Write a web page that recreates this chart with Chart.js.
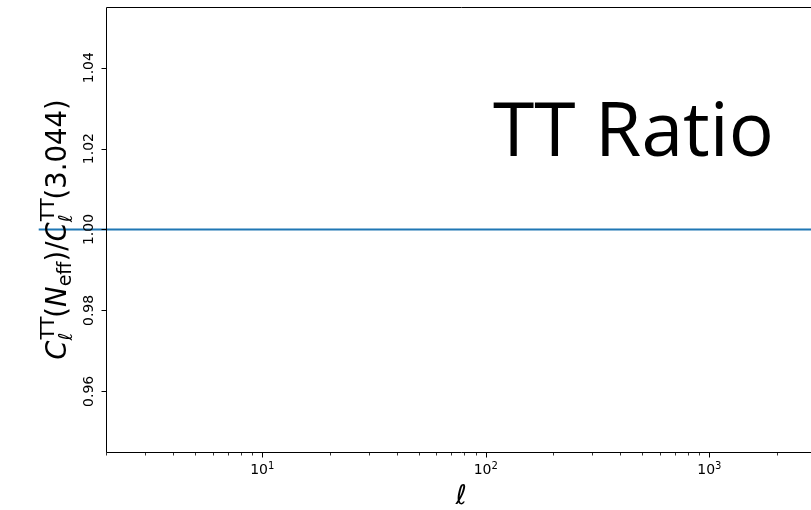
<!DOCTYPE html>
<html lang="en">
<head>
    <meta charset="UTF-8">
    <title>TT Ratio</title>
    <style>
        html, body { margin: 0; padding: 0; overflow: hidden; background: #fff; }
        #wrap { width: 830px; height: 510px; }
    </style>
</head>
<body>

<div id="wrap">
    <canvas id="ratioChart" width="830" height="510"></canvas>
</div>

<script src="https://cdn.jsdelivr.net/npm/chart.js@4"></script>
<script>
  // data
  const ells = [1, 3000];
  const ratio = [1.0, 1.0];
  const yTicks = [0.96, 0.98, 1.00, 1.02, 1.04];
  const yTickLabels = ['0.96', '0.98', '1.00', '1.02', '1.04'];
  const xMajor = [10, 100, 1000];
  const xMajorExp = ['1', '2', '3'];
  const xMinor = [2, 3, 4, 5, 6, 7, 8, 9, 20, 30, 40, 50, 60, 70, 80, 90,
                  200, 300, 400, 500, 600, 700, 800, 900, 2000, 3000];

  const FONT = '"DejaVu Sans", sans-serif';

  // draw a run of mathtext-like pieces centred on 0
  function drawPieces(ctx, pieces, base) {
    const widthOf = p => { ctx.font = p.font; return ctx.measureText(p.t).width; };
    let total = 0;
    pieces.forEach(p => {
      if (p.stack) total += Math.max(...p.stack.map(widthOf));
      else total += widthOf(p);
    });
    let x = -total / 2;
    pieces.forEach(p => {
      if (p.stack) {
        let w = 0;
        p.stack.forEach(s => {
          ctx.font = s.font;
          ctx.fillText(s.t, x + (s.dx || 0), base + s.dy);
          w = Math.max(w, ctx.measureText(s.t).width);
        });
        x += w;
      } else {
        ctx.font = p.font;
        ctx.fillText(p.t, x, base + (p.dy || 0));
        x += ctx.measureText(p.t).width;
      }
    });
  }

  const axesDecor = {
    id: 'axesDecor',
    afterDraw(chart) {
      const ctx = chart.ctx;
      const a = chart.chartArea;
      const xs = chart.scales.x, ys = chart.scales.y;
      ctx.save();
      ctx.strokeStyle = '#000';
      ctx.fillStyle = '#000';

      // spines
      ctx.lineWidth = 1;
      ctx.beginPath();
      ctx.moveTo(a.left + 0.5, a.top + 0.5);
      ctx.lineTo(a.right + 0.5, a.top + 0.5);
      ctx.lineTo(a.right + 0.5, a.bottom + 0.5);
      ctx.lineTo(a.left + 0.5, a.bottom + 0.5);
      ctx.closePath();
      ctx.stroke();

      // x ticks
      ctx.beginPath();
      xMajor.forEach(v => {
        const px = Math.round(xs.getPixelForValue(v)) + 0.5;
        ctx.moveTo(px, a.bottom + 0.5);
        ctx.lineTo(px, a.bottom + 5.5);
      });
      ctx.stroke();
      ctx.lineWidth = 0.8;
      ctx.beginPath();
      xMinor.forEach(v => {
        const px = Math.round(xs.getPixelForValue(v)) + 0.5;
        ctx.moveTo(px, a.bottom + 0.5);
        ctx.lineTo(px, a.bottom + 3.5);
      });
      ctx.stroke();

      // y ticks
      ctx.lineWidth = 1;
      ctx.beginPath();
      yTicks.forEach(v => {
        const py = Math.round(ys.getPixelForValue(v)) + 0.5;
        ctx.moveTo(a.left + 0.5, py);
        ctx.lineTo(a.left - 4.5, py);
      });
      ctx.stroke();

      // x tick labels 10^n
      ctx.textBaseline = 'alphabetic';
      ctx.textAlign = 'left';
      xMajor.forEach((v, i) => {
        const px = xs.getPixelForValue(v);
        ctx.save();
        ctx.translate(px, a.bottom + 22);
        drawPieces(ctx, [
          { t: '10', font: '14px ' + FONT },
          { t: xMajorExp[i], font: '10px ' + FONT, dy: -5 }
        ], 0);
        ctx.restore();
      });

      // y tick labels (rotated)
      yTicks.forEach((v, i) => {
        const py = ys.getPixelForValue(v);
        ctx.save();
        ctx.translate(a.left - 13.5, py);
        ctx.rotate(-Math.PI / 2);
        ctx.font = '14px ' + FONT;
        ctx.textAlign = 'center';
        ctx.fillText(yTickLabels[i], 0, 0);
        ctx.restore();
      });

      // y axis label
      const it = 'oblique 27.5px ' + FONT, up = '27.5px ' + FONT;
      const sit = 'oblique 19px ' + FONT, sup = '19px ' + FONT;
      ctx.save();
      ctx.translate(66, (a.top + a.bottom) / 2);
      ctx.rotate(-Math.PI / 2);
      ctx.textAlign = 'left';
      drawPieces(ctx, [
        { t: 'C', font: it },
        { stack: [ { t: 'TT', font: sup, dy: -12, dx: 1 }, { t: '\u2113', font: sit, dy: 6 } ] },
        { t: '(', font: up },
        { t: 'N', font: it },
        { t: 'eff', font: sup, dy: 5 },
        { t: ')/', font: up },
        { t: 'C', font: it },
        { stack: [ { t: 'TT', font: sup, dy: -12, dx: 1 }, { t: '\u2113', font: sit, dy: 6 } ] },
        { t: '(3.044)', font: up }
      ], 0);
      ctx.restore();

      // x axis label
      ctx.font = 'oblique 27px ' + FONT;
      ctx.textAlign = 'center';
      ctx.fillText('\u2113', (a.left + a.right) / 2, 504);

      // panel text
      ctx.font = '75px "Open Sans", sans-serif';
      ctx.textAlign = 'left';
      ctx.fillText('TT Ratio', 493, 156);

      ctx.restore();
    }
  };

  const ctx = document.getElementById('ratioChart').getContext('2d');
  const myChart = new Chart(ctx, {
    type: 'line',
    data: {
      datasets: [{
        data: ells.map((l, i) => ({ x: l, y: ratio[i] })),
        borderColor: '#1f77b4',
        borderWidth: 2,
        pointRadius: 0,
        fill: false,
        clip: false
      }]
    },
    options: {
      responsive: false,
      animation: false,
      devicePixelRatio: 1,
      layout: { padding: { left: 106, top: 7, right: 14, bottom: 58 } },
      plugins: { legend: { display: false }, tooltip: { enabled: false } },
      scales: {
        x: { type: 'logarithmic', min: 2, max: 3000, display: false },
        y: { type: 'linear', min: 0.945, max: 1.055, display: false }
      }
    },
    plugins: [axesDecor]
  });
</script>

</body>
</html>
